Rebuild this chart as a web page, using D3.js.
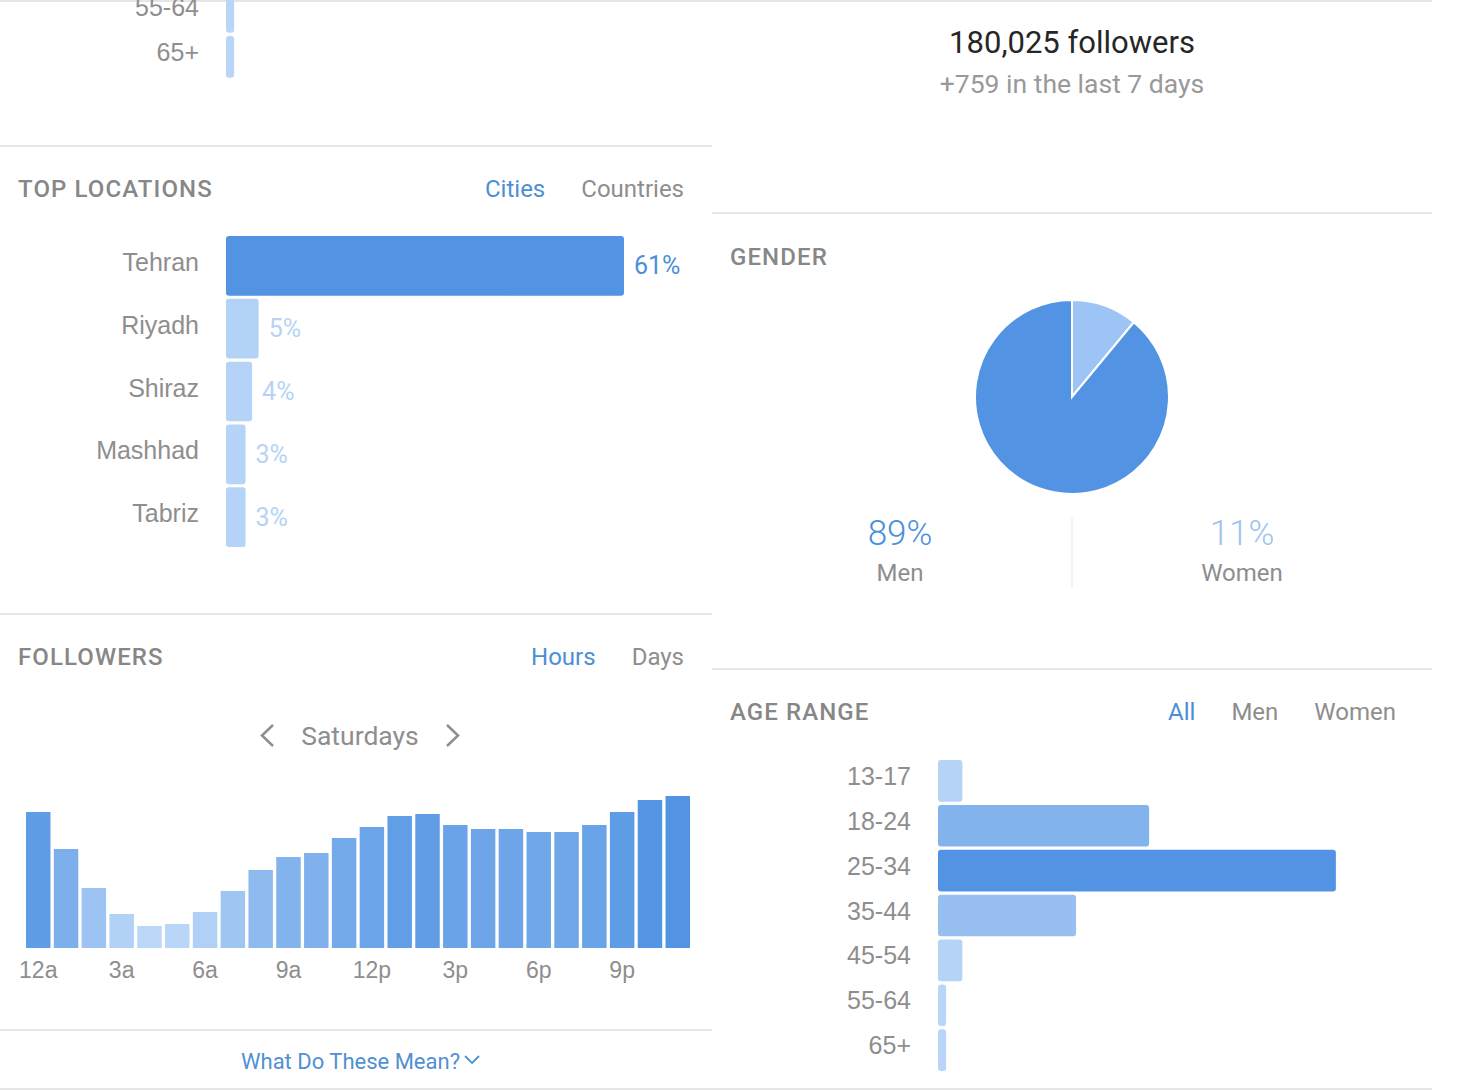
<!DOCTYPE html>
<html>
<head>
<meta charset="utf-8">
<script src="https://cdn.jsdelivr.net/npm/d3@7"></script>
<style>
  html, body { margin: 0; padding: 0; background: #fff; }
  svg { display: block; font-family: Roboto, "Noto Sans", sans-serif; }
  .axis path, .axis line { display: none; }
</style>
</head>
<body>
<div id="chart"></div>
<script>
// DATA
const cities = ["Tehran", "Riyadh", "Shiraz", "Mashhad", "Tabriz"];
const cityShare = [61, 5, 4, 3, 3];

const hours = d3.range(24);
const hourLabels = ["12a", "3a", "6a", "9a", "12p", "3p", "6p", "9p"];
const saturdayFollowers = [136, 99, 60, 34, 22, 24, 36, 57, 78, 91, 95, 110,
                           121, 132, 134, 123, 119, 119, 116, 116, 123, 136, 148, 152];

const ageRanges = ["13-17", "18-24", "25-34", "35-44", "45-54", "55-64", "65+"];
const ageShare = [3, 26, 49, 17, 3, 1, 1];

const genders = ["Men", "Women"];
const genderShare = [89, 11];

const followerTotal = "180,025 followers";
const followerGain = "+759 in the last 7 days";

// STYLE
const W = 1463, H = 1091;
const gray = "#8e8e8e", titleGray = "#878787", blue = "#4d8fd5",
      light = "#bbd7f8", dark = "#5294e3", rule = "#e6e6e6";

const svg = d3.select("#chart").append("svg")
    .attr("width", W)
    .attr("height", H);

//RULES between sections
[[0, 1432, 1], [0, 712, 146], [0, 712, 614], [0, 712, 1030], [0, 1432, 1089],
 [712, 1432, 213], [712, 1432, 669]].forEach(r => {
    svg.append("line")
        .attr("x1", r[0]).attr("x2", r[1])
        .attr("y1", r[2]).attr("y2", r[2])
        .attr("stroke", rule).attr("stroke-width", 2);
});

//SECTION HEADER with tabs (first tab active)
function header(x, y, title, tabs, tabRight) {
    svg.append("text")
        .attr("x", x).attr("y", y)
        .attr("dominant-baseline", "central")
        .attr("font-size", 24).attr("font-weight", 500)
        .attr("letter-spacing", 1.1)
        .attr("fill", titleGray)
        .text(title);
    let right = tabRight;
    tabs.slice().reverse().forEach((t, i) => {
        const txt = svg.append("text")
            .attr("x", right).attr("y", y)
            .attr("text-anchor", "end")
            .attr("dominant-baseline", "central")
            .attr("font-size", 24)
            .attr("fill", i === tabs.length - 1 ? blue : gray)
            .text(t);
        right -= txt.node().getComputedTextLength() + 36;
    });
}

header(18, 189, "TOP LOCATIONS", ["Cities", "Countries"], 684);
header(18, 657, "FOLLOWERS", ["Hours", "Days"], 684);
header(730, 257, "GENDER", [], 0);
header(730, 712, "AGE RANGE", ["All", "Men", "Women"], 1396);

//TOP LOCATIONS
const locX = d3.scaleLinear().domain([0, 100]).range([0, 652.5]);
const locY = d3.scaleBand().domain(cities).range([236, 547]).paddingInner(0.05);
const locColor = d3.scaleLinear().domain([0, d3.max(cityShare)]).range([light, dark]);
const locRows = cities.map((c, i) => ({name: c, value: cityShare[i]}));

const loc = svg.append("g");
loc.append("g")
    .attr("class", "axis")
    .attr("transform", "translate(226,-3)")
    .call(d3.axisLeft(locY).tickSize(0).tickPadding(27))
    .call(g => g.selectAll("text").attr("font-size", 25).attr("fill", gray))
    .call(g => g.select(".domain").remove());
loc.selectAll("rect").data(locRows).enter().append("rect")
    .attr("x", 226)
    .attr("y", d => locY(d.name))
    .attr("width", d => locX(d.value))
    .attr("height", locY.bandwidth())
    .attr("rx", 3)
    .attr("fill", d => locColor(d.value));
loc.selectAll(".val").data(locRows).enter().append("text")
    .attr("class", "val")
    .attr("x", d => 226 + locX(d.value) + 10)
    .attr("y", d => locY(d.name) + locY.bandwidth() / 2)
    .attr("dominant-baseline", "central")
    .attr("font-size", 25)
    .attr("fill", d => d.value === d3.max(cityShare) ? "#4a8fdc" : "#b6d3f5")
    .text(d => d.value + "%");

//AGE RANGE (right panel, and the scrolled-off tail on the top left)
const ageX = d3.scaleLinear().domain([0, 100]).range([0, 812]);
const ageColor = d3.scaleLinear().domain([0, d3.max(ageShare)]).range([light, dark]);
const ageRows = ageRanges.map((a, i) => ({name: a, value: ageShare[i]}));

function drawAge(x0, yTop) {
    const y = d3.scaleBand().domain(ageRanges).range([yTop, yTop + 311]).paddingInner(0.07);
    const g = svg.append("g");
    g.append("g")
        .attr("class", "axis")
        .attr("transform", "translate(" + x0 + ",-4)")
        .call(d3.axisLeft(y).tickSize(0).tickPadding(27))
        .call(s => s.selectAll("text").attr("font-size", 25).attr("fill", gray))
        .call(s => s.select(".domain").remove());
    g.selectAll("rect").data(ageRows).enter().append("rect")
        .attr("x", x0)
        .attr("y", d => y(d.name))
        .attr("width", d => ageX(d.value))
        .attr("height", y.bandwidth())
        .attr("rx", 3)
        .attr("fill", d => ageColor(d.value));
}
drawAge(938, 760);
drawAge(226, 36 - 6 * (311 / 6.93));

//FOLLOWERS by hour
const hx = d3.scaleBand().domain(hours).range([26, 690]).paddingInner(0.12);
const hy = d3.scaleLinear().domain([0, d3.max(saturdayFollowers)]).range([948, 796]);
const hColor = d3.scaleLinear()
    .domain([d3.min(saturdayFollowers), d3.max(saturdayFollowers)])
    .range([light, dark]);

svg.append("g").selectAll("rect")
    .data(hours).enter().append("rect")
    .attr("x", d => hx(d))
    .attr("y", d => hy(saturdayFollowers[d]))
    .attr("width", hx.bandwidth())
    .attr("height", d => hy(0) - hy(saturdayFollowers[d]))
    .attr("fill", d => hColor(saturdayFollowers[d]));

svg.append("g")
    .attr("class", "axis")
    .attr("transform", "translate(0,948)")
    .call(d3.axisBottom(hx)
        .tickValues(hours.filter(h => h % 3 === 0))
        .tickFormat(h => hourLabels[h / 3])
        .tickSize(0).tickPadding(14))
    .call(g => g.selectAll("text").attr("font-size", 23).attr("fill", gray))
    .call(g => g.select(".domain").remove());

// day selector
svg.append("text")
    .attr("x", 360).attr("y", 735)
    .attr("text-anchor", "middle")
    .attr("dominant-baseline", "central")
    .attr("font-size", 26.5).attr("fill", gray)
    .text("Saturdays");
const chevron = d3.line();
svg.append("path").attr("d", chevron([[273, 725], [262, 735.5], [273, 746]]))
    .attr("fill", "none").attr("stroke", gray).attr("stroke-width", 2.5);
svg.append("path").attr("d", chevron([[447, 725], [458, 735.5], [447, 746]]))
    .attr("fill", "none").attr("stroke", gray).attr("stroke-width", 2.5);

// footer link
const more = svg.append("text")
    .attr("x", 241).attr("y", 1061)
    .attr("dominant-baseline", "central")
    .attr("font-size", 22).attr("fill", "#5190d2")
    .text("What Do These Mean?");
const mx = 241 + more.node().getComputedTextLength() + 5;
svg.append("path").attr("d", chevron([[mx, 1056], [mx + 7, 1063], [mx + 14, 1056]]))
    .attr("fill", "none").attr("stroke", "#5190d2").attr("stroke-width", 1.8);

//FOLLOWER COUNT
svg.append("text")
    .attr("x", 1072).attr("y", 42)
    .attr("text-anchor", "middle").attr("dominant-baseline", "central")
    .attr("font-size", 31).attr("fill", "#262626")
    .text(followerTotal);
svg.append("text")
    .attr("x", 1072).attr("y", 83)
    .attr("text-anchor", "middle").attr("dominant-baseline", "central")
    .attr("font-size", 26.5).attr("fill", "#999")
    .text(followerGain);

//GENDER PIE
const genderColor = d3.scaleOrdinal().domain(genders).range([dark, "#9cc4f4"]);
const genderRows = genders.map((gd, i) => ({name: gd, value: genderShare[i]}));
const pie = d3.pie().sort(null).value(d => d.value);
const arc = d3.arc().innerRadius(0).outerRadius(97);

svg.append("g")
    .attr("transform", "translate(1072,397)")
    .selectAll("path")
    .data(pie(genderRows.slice().reverse()))
    .enter().append("path")
    .attr("d", arc)
    .attr("fill", d => genderColor(d.data.name))
    .attr("stroke", "#fff")
    .attr("stroke-width", 2);

svg.append("line")
    .attr("x1", 1072).attr("x2", 1072).attr("y1", 518).attr("y2", 588)
    .attr("stroke", "#eeeeee").attr("stroke-width", 1.5);

const gx = d3.scalePoint().domain(genders).range([900, 1242]);
svg.selectAll(".gpct").data(genderRows).enter().append("text")
    .attr("class", "gpct")
    .attr("x", d => gx(d.name)).attr("y", 533)
    .attr("text-anchor", "middle").attr("dominant-baseline", "central")
    .attr("font-size", 35).attr("font-weight", 300)
    .attr("fill", d => d.name === "Men" ? "#4a8fdc" : "#9cc3f0")
    .text(d => d.value + "%");
svg.selectAll(".gname").data(genderRows).enter().append("text")
    .attr("class", "gname")
    .attr("x", d => gx(d.name)).attr("y", 573)
    .attr("text-anchor", "middle").attr("dominant-baseline", "central")
    .attr("font-size", 24).attr("fill", gray)
    .text(d => d.name);
</script>
</body>
</html>
